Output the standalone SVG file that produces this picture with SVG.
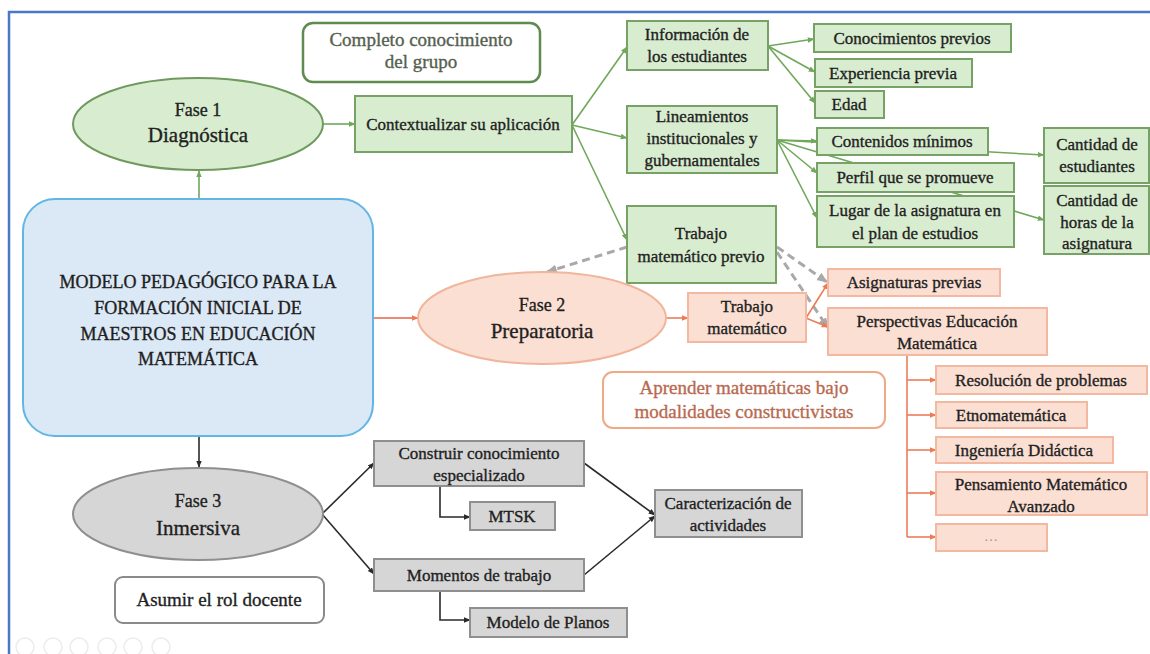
<svg xmlns="http://www.w3.org/2000/svg" width="1150" height="654" viewBox="0 0 1150 654">
<style>
.t{font-family:"Liberation Serif","Times New Roman",serif;fill:#1f1f1f;stroke:#1f1f1f;stroke-width:0.35px;text-anchor:middle;font-size:17px}
.big{font-size:21px}
.ph{font-size:18px}
.soft{font-size:19px}
.grn{fill:#55604f;stroke:#55604f}
.org{fill:#b86a50;stroke:#b86a50}
.gbox{fill:#d8edcf;stroke:#76a365;stroke-width:2}
.obox{fill:#fbdfd3;stroke:#f2b9a0;stroke-width:2}
.kbox{fill:#d6d6d6;stroke:#8f8f8f;stroke-width:2}
.gl{stroke:#6fa85a;stroke-width:1.6;fill:none}
.ol{stroke:#ea7d58;stroke-width:1.6;fill:none}
.kl{stroke:#2a2a2a;stroke-width:1.6;fill:none}
.dl{stroke:#a9a9a9;stroke-width:3;stroke-dasharray:8 5;fill:none}
</style>
<defs>
<marker id="ag" viewBox="0 0 10 10" refX="9" refY="5" markerWidth="7" markerHeight="7" markerUnits="userSpaceOnUse" orient="auto"><path d="M0,1 L10,5 L0,9 z" fill="#6fa85a"/></marker>
<marker id="ao" viewBox="0 0 10 10" refX="9" refY="5" markerWidth="7" markerHeight="7" markerUnits="userSpaceOnUse" orient="auto"><path d="M0,1 L10,5 L0,9 z" fill="#ea7d58"/></marker>
<marker id="ak" viewBox="0 0 10 10" refX="9" refY="5" markerWidth="7" markerHeight="7" markerUnits="userSpaceOnUse" orient="auto"><path d="M0,1 L10,5 L0,9 z" fill="#2a2a2a"/></marker>
<marker id="ad" viewBox="0 0 10 10" refX="9" refY="5" markerWidth="11" markerHeight="11" markerUnits="userSpaceOnUse" orient="auto"><path d="M0,1 L10,5 L0,9 z" fill="#a9a9a9"/></marker>
</defs>
<rect width="1150" height="654" fill="#ffffff"/>
<path d="M9,654 L9,12 L1150,12" fill="none" stroke="#4a78c8" stroke-width="2.5"/>
<g id="toolbar" fill="none" stroke="#ececec" stroke-width="1.5">
<circle cx="25" cy="647" r="9"/><circle cx="53" cy="647" r="9"/><circle cx="79" cy="647" r="9"/><circle cx="107" cy="647" r="9"/><circle cx="133" cy="647" r="9"/><circle cx="161" cy="647" r="9"/>
</g>
<g id="connectors">
<line class="gl" x1="199" y1="199" x2="199" y2="171" marker-end="url(#ag)"/>
<line class="gl" x1="323" y1="124" x2="355" y2="124" marker-end="url(#ag)"/>
<line class="gl" x1="572" y1="125" x2="627" y2="47" marker-end="url(#ag)"/>
<line class="gl" x1="572" y1="125" x2="627" y2="138" marker-end="url(#ag)"/>
<line class="gl" x1="572" y1="125" x2="627" y2="240" marker-end="url(#ag)"/>
<line class="gl" x1="768" y1="46" x2="814" y2="39" marker-end="url(#ag)"/>
<line class="gl" x1="768" y1="46" x2="815" y2="72" marker-end="url(#ag)"/>
<line class="gl" x1="768" y1="46" x2="815" y2="103" marker-end="url(#ag)"/>
<line class="gl" x1="777" y1="140" x2="1044" y2="155" marker-end="url(#ag)"/>
<line class="gl" x1="777" y1="140" x2="1044" y2="220" marker-end="url(#ag)"/>
<line class="gl" x1="777" y1="140" x2="817" y2="141" marker-end="url(#ag)"/>
<line class="gl" x1="777" y1="140" x2="817" y2="173" marker-end="url(#ag)"/>
<line class="gl" x1="777" y1="140" x2="817" y2="218" marker-end="url(#ag)"/>
<line class="dl" x1="627" y1="247" x2="547" y2="272" marker-end="url(#ad)"/>
<line class="dl" x1="777" y1="247" x2="827" y2="282" marker-end="url(#ad)"/>
<line class="dl" x1="777" y1="252" x2="828" y2="328" marker-end="url(#ad)"/>
<line x1="373" y1="318" x2="418" y2="318" stroke="#e8604a" stroke-width="1.6" marker-end="url(#ao)"/>
<line class="ol" x1="666" y1="318" x2="688" y2="318" marker-end="url(#ao)"/>
<line class="ol" x1="806" y1="318" x2="828" y2="283" marker-end="url(#ao)"/>
<line class="ol" x1="806" y1="318" x2="828" y2="327" marker-end="url(#ao)"/>
<path class="ol" d="M907,355 L907,537"/>
<line class="ol" x1="907" y1="380" x2="936" y2="380" marker-end="url(#ao)"/>
<line class="ol" x1="907" y1="415" x2="936" y2="415" marker-end="url(#ao)"/>
<line class="ol" x1="907" y1="450" x2="936" y2="450" marker-end="url(#ao)"/>
<line class="ol" x1="907" y1="493" x2="936" y2="493" marker-end="url(#ao)"/>
<line class="ol" x1="907" y1="537" x2="936" y2="537" marker-end="url(#ao)"/>
<line class="kl" x1="199" y1="436" x2="199" y2="467" marker-end="url(#ak)"/>
<line class="kl" x1="322" y1="514" x2="374" y2="463" marker-end="url(#ak)"/>
<line class="kl" x1="322" y1="514" x2="374" y2="574" marker-end="url(#ak)"/>
<path class="kl" d="M440,486 L440,517 L470,517" marker-end="url(#ak)"/>
<path class="kl" d="M440,591 L440,620 L470,620" marker-end="url(#ak)"/>
<line class="kl" x1="584" y1="463" x2="655" y2="515" marker-end="url(#ak)"/>
<line class="kl" x1="584" y1="575" x2="655" y2="516" marker-end="url(#ak)"/>
</g>
<g id="main">
<rect x="23" y="199" width="350" height="237" rx="32" fill="#dbe8f5" stroke="#62b6e3" stroke-width="2"/>
<text class="t ph" x="198" y="288">MODELO PEDAGÓGICO PARA LA</text>
<text class="t ph" x="198" y="314">FORMACIÓN INICIAL DE</text>
<text class="t ph" x="198" y="340">MAESTROS EN EDUCACIÓN</text>
<text class="t ph" x="198" y="365">MATEMÁTICA</text>
</g>
<g id="completo">
<rect x="303" y="23" width="237" height="59" rx="10" fill="#ffffff" stroke="#5f8a50" stroke-width="2.5"/>
<text class="t soft grn" x="421" y="46">Completo conocimiento</text>
<text class="t soft grn" x="421" y="68">del grupo</text>
</g>
<g id="fase1">
<ellipse cx="198" cy="124" rx="125" ry="46" fill="#d8edcf" stroke="#6f9a5e" stroke-width="2"/>
<text class="t ph" x="198" y="116">Fase 1</text>
<text class="t big" x="198" y="142">Diagnóstica</text>
</g>
<g id="contextualizar">
<rect class="gbox" x="355" y="96" width="217" height="56"/>
<text class="t" x="463" y="130">Contextualizar su aplicación</text>
</g>
<g id="informacion">
<rect class="gbox" x="627" y="21" width="141" height="49"/>
<text class="t" x="697" y="40">Información de</text>
<text class="t" x="697" y="62">los estudiantes</text>
</g>
<g id="conocimientos">
<rect class="gbox" x="814" y="24" width="197" height="28"/>
<text class="t" x="912" y="44">Conocimientos previos</text>
</g>
<g id="experiencia">
<rect class="gbox" x="815" y="59" width="157" height="28"/>
<text class="t" x="893" y="79">Experiencia previa</text>
</g>
<g id="edad">
<rect class="gbox" x="815" y="91" width="69" height="27"/>
<text class="t" x="849" y="110">Edad</text>
</g>
<g id="lineamientos">
<rect class="gbox" x="627" y="106" width="150" height="67"/>
<text class="t" x="702" y="122">Lineamientos</text>
<text class="t" x="702" y="144">institucionales y</text>
<text class="t" x="702" y="166">gubernamentales</text>
</g>
<g id="contenidos">
<rect class="gbox" x="817" y="128" width="171" height="27"/>
<text class="t" x="902" y="147">Contenidos mínimos</text>
</g>
<g id="perfil">
<rect class="gbox" x="817" y="163" width="197" height="29"/>
<text class="t" x="915" y="183">Perfil que se promueve</text>
</g>
<g id="lugar">
<rect class="gbox" x="817" y="196" width="197" height="51"/>
<text class="t" x="915" y="216">Lugar de la asignatura en</text>
<text class="t" x="915" y="239">el plan de estudios</text>
</g>
<g id="cant-estudiantes">
<rect class="gbox" x="1044" y="128" width="105" height="55"/>
<text class="t" x="1097" y="150">Cantidad de</text>
<text class="t" x="1097" y="172">estudiantes</text>
</g>
<g id="cant-horas">
<rect class="gbox" x="1044" y="186" width="105" height="68"/>
<text class="t" x="1097" y="206">Cantidad de</text>
<text class="t" x="1097" y="228">horas de la</text>
<text class="t" x="1097" y="249">asignatura</text>
</g>
<g id="trabajo-previo">
<rect class="gbox" x="627" y="206" width="149" height="77"/>
<text class="t" x="701" y="239">Trabajo</text>
<text class="t" x="701" y="262">matemático previo</text>
</g>
<g id="fase2">
<ellipse cx="542" cy="318" rx="124" ry="46" fill="#fbdfd3" stroke="#f0b59b" stroke-width="2"/>
<text class="t ph" x="542" y="311">Fase 2</text>
<text class="t big" x="542" y="338">Preparatoria</text>
</g>
<g id="trabajo-mat">
<rect class="obox" x="688" y="293" width="118" height="49"/>
<text class="t" x="747" y="312">Trabajo</text>
<text class="t" x="747" y="334">matemático</text>
</g>
<g id="asignaturas">
<rect class="obox" x="828" y="269" width="172" height="27"/>
<text class="t" x="914" y="288">Asignaturas previas</text>
</g>
<g id="perspectivas">
<rect class="obox" x="828" y="308" width="219" height="47"/>
<text class="t" x="937" y="327">Perspectivas Educación</text>
<text class="t" x="937" y="349">Matemática</text>
</g>
<g id="aprender">
<rect x="603" y="372" width="282" height="56" rx="10" fill="#ffffff" stroke="#f0a888" stroke-width="2"/>
<text class="t soft org" x="744" y="394">Aprender matemáticas bajo</text>
<text class="t soft org" x="744" y="418">modalidades constructivistas</text>
</g>
<g id="resolucion">
<rect class="obox" x="936" y="366" width="211" height="28"/>
<text class="t" x="1041" y="386">Resolución de problemas</text>
</g>
<g id="etno">
<rect class="obox" x="936" y="402" width="151" height="26"/>
<text class="t" x="1011" y="421">Etnomatemática</text>
</g>
<g id="ingenieria">
<rect class="obox" x="936" y="437" width="177" height="26"/>
<text class="t" x="1024" y="456">Ingeniería Didáctica</text>
</g>
<g id="pensamiento">
<rect class="obox" x="936" y="472" width="211" height="43"/>
<text class="t" x="1041" y="490">Pensamiento Matemático</text>
<text class="t" x="1041" y="512">Avanzado</text>
</g>
<g id="etc">
<rect class="obox" x="936" y="524" width="111" height="27"/>
<text class="t" style="fill:#9a9a9a;stroke:none;font-size:14px" x="991" y="541">…</text>
</g>
<g id="fase3">
<ellipse cx="198" cy="514" rx="125" ry="46" fill="#d6d6d6" stroke="#8f8f8f" stroke-width="2"/>
<text class="t ph" x="198" y="507">Fase 3</text>
<text class="t big" x="198" y="535">Inmersiva</text>
</g>
<g id="asumir">
<rect x="115" y="577" width="209" height="46" rx="8" fill="#ffffff" stroke="#8a8a8a" stroke-width="2"/>
<text class="t soft" x="219" y="606">Asumir el rol docente</text>
</g>
<g id="construir">
<rect class="kbox" x="374" y="441" width="210" height="45"/>
<text class="t" x="479" y="459">Construir conocimiento</text>
<text class="t" x="479" y="481">especializado</text>
</g>
<g id="mtsk">
<rect class="kbox" x="470" y="502" width="85" height="28"/>
<text class="t" x="512" y="522">MTSK</text>
</g>
<g id="momentos">
<rect class="kbox" x="374" y="559" width="210" height="32"/>
<text class="t" x="479" y="581">Momentos de trabajo</text>
</g>
<g id="modelo-planos">
<rect class="kbox" x="470" y="608" width="157" height="29"/>
<text class="t" x="548" y="628">Modelo de Planos</text>
</g>
<g id="caracterizacion">
<rect class="kbox" x="655" y="490" width="147" height="47"/>
<text class="t" x="728" y="509">Caracterización de</text>
<text class="t" x="728" y="531">actividades</text>
</g>
</svg>
